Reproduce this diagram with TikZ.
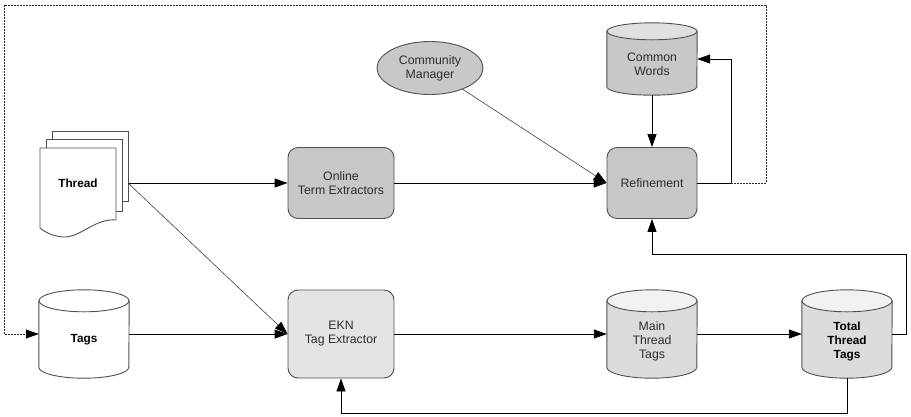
\documentclass[tikz,border=0pt]{standalone}
\usepackage{fontspec}
\setmainfont{Liberation Sans}
\usetikzlibrary{arrows.meta,shapes.geometric}

\definecolor{edge}{RGB}{80,80,80}
\definecolor{fillDark}{RGB}{200,200,200}
\definecolor{fillMid}{RGB}{220,220,220}
\definecolor{fillLight}{RGB}{228,228,228}
\definecolor{topDark}{RGB}{224,224,224}
\definecolor{topLight}{RGB}{242,242,242}
\definecolor{ink}{RGB}{45,45,45}

% cylinder drawn over an (undrawn) slot node: node, cap radius, body fill, cap fill
\newcommand\cylshape[4]{%
  \path[shapeline, fill=#3] ([yshift=-#2pt]#1.north west) -- ([yshift=#2pt]#1.south west)
    arc[start angle=180, end angle=360, x radius=45pt, y radius=#2pt]
    -- ([yshift=-#2pt]#1.north east) -- cycle;
  \path[shapeline, fill=#4] ([yshift=-#2pt]#1.north) ellipse[x radius=45pt, y radius=#2pt];}

\begin{document}
\begin{tikzpicture}[x=1pt, y=-1pt,
  every node/.style={font=\fontsize{12.3}{14}\selectfont, text=ink, align=center},
  boldlabel/.style={font=\fontsize{11.8}{14}\selectfont\bfseries, text=black},
  procbox/.style={draw=edge, line width=0.9pt, rounded corners=10pt, inner sep=0pt},
  slot/.style={inner sep=0pt},
  shapeline/.style={draw=edge, line width=0.9pt},
  tip/.style={-{Triangle[length=13pt,width=9pt,color=black]}},
  flow/.style={draw=black, line width=0.9pt, tip},
  thinflow/.style={draw=black!75, line width=0.6pt, tip},
  feedback/.style={draw=black!85, line width=0.7pt, dash pattern=on 2pt off 1pt, tip},
]
\useasboundingbox (0,0) rectangle (911,416);

% --- stacked documents ---
\path[shapeline, fill=white] (52,131) rectangle (128,201);
\path[shapeline, fill=white] (46,139) rectangle (122,211);
\path[shapeline, fill=white] (40,148) -- (116,148) -- (116,220)
  .. controls (95,218) and (80,238) .. (63,237)
  .. controls (52,236) and (45,232) .. (40,228) -- cycle;
\node[boldlabel] (thread) at (78,183) {Thread};
\coordinate (thr) at (128,183);

% --- process boxes ---
\node[procbox, fill=fillDark, minimum width=106pt, minimum height=71pt] (ote) at (341,183) {Online\\Term Extractors};
\node[procbox, fill=fillDark, minimum width=90pt, minimum height=71pt] (ref) at (652,183) {Refinement};
\node[procbox, fill=fillLight, minimum width=106pt, minimum height=88pt] (ekn) at (341,334) {EKN\\Tag Extractor};
\node[ellipse, draw=edge, line width=0.9pt, fill=fillDark, minimum width=106pt, minimum height=53pt, inner sep=0pt] (cm) at (430,68) {Community\\Manager};

% --- data stores ---
\node[slot, minimum width=90pt, minimum height=72pt] (cw) at (652,59) {};
\node[slot, minimum width=90pt, minimum height=88pt] (tags) at (84,334) {};
\node[slot, minimum width=90pt, minimum height=88pt] (mtt) at (652,334) {};
\node[slot, minimum width=90pt, minimum height=88pt] (ttt) at (847,334) {};
\cylshape{cw}{8.5}{fillDark}{topDark}
\cylshape{tags}{11}{white}{white}
\cylshape{mtt}{11}{fillMid}{topLight}
\cylshape{ttt}{11}{fillMid}{topLight}
\node (cw-text) at (652,64) {Common\\Words};
\node[boldlabel] (tags-text) at (84,340) {Tags};
\node (mtt-text) at (652,341) {Main\\Thread\\Tags};
\node[boldlabel] (ttt-text) at (847,341) {Total\\Thread\\Tags};

% --- connectors ---
\draw[flow] (thr) -- (ote.west);
\draw[flow] (ote.east) -- (ref.west);
\draw[thinflow] (cm) -- (ref.west);
\draw[thinflow] (thr) -- (ekn.west);
\draw[flow] (cw.south) -- (ref.north);
\coordinate (jct) at (731,183);
\draw[flow] (ref.east) -- (jct) |- (cw.east);
\coordinate (fbR) at (766,5);
\coordinate (fbL) at (4,5);
\draw[feedback] (jct) -| (fbR) -- (fbL) |- (tags.west);
\draw[flow] (tags.east) -- (ekn.west);
\draw[flow] (ekn.east) -- (mtt.west);
\draw[flow] (mtt.east) -- (ttt.west);
\coordinate (rr) at (906,254);
\draw[flow] (ttt.east) -| (rr) -| (ref.south);
\coordinate (bb) at (847,413);
\draw[flow] (ttt.south) -- (bb) -| (ekn.south);
\end{tikzpicture}
\end{document}
